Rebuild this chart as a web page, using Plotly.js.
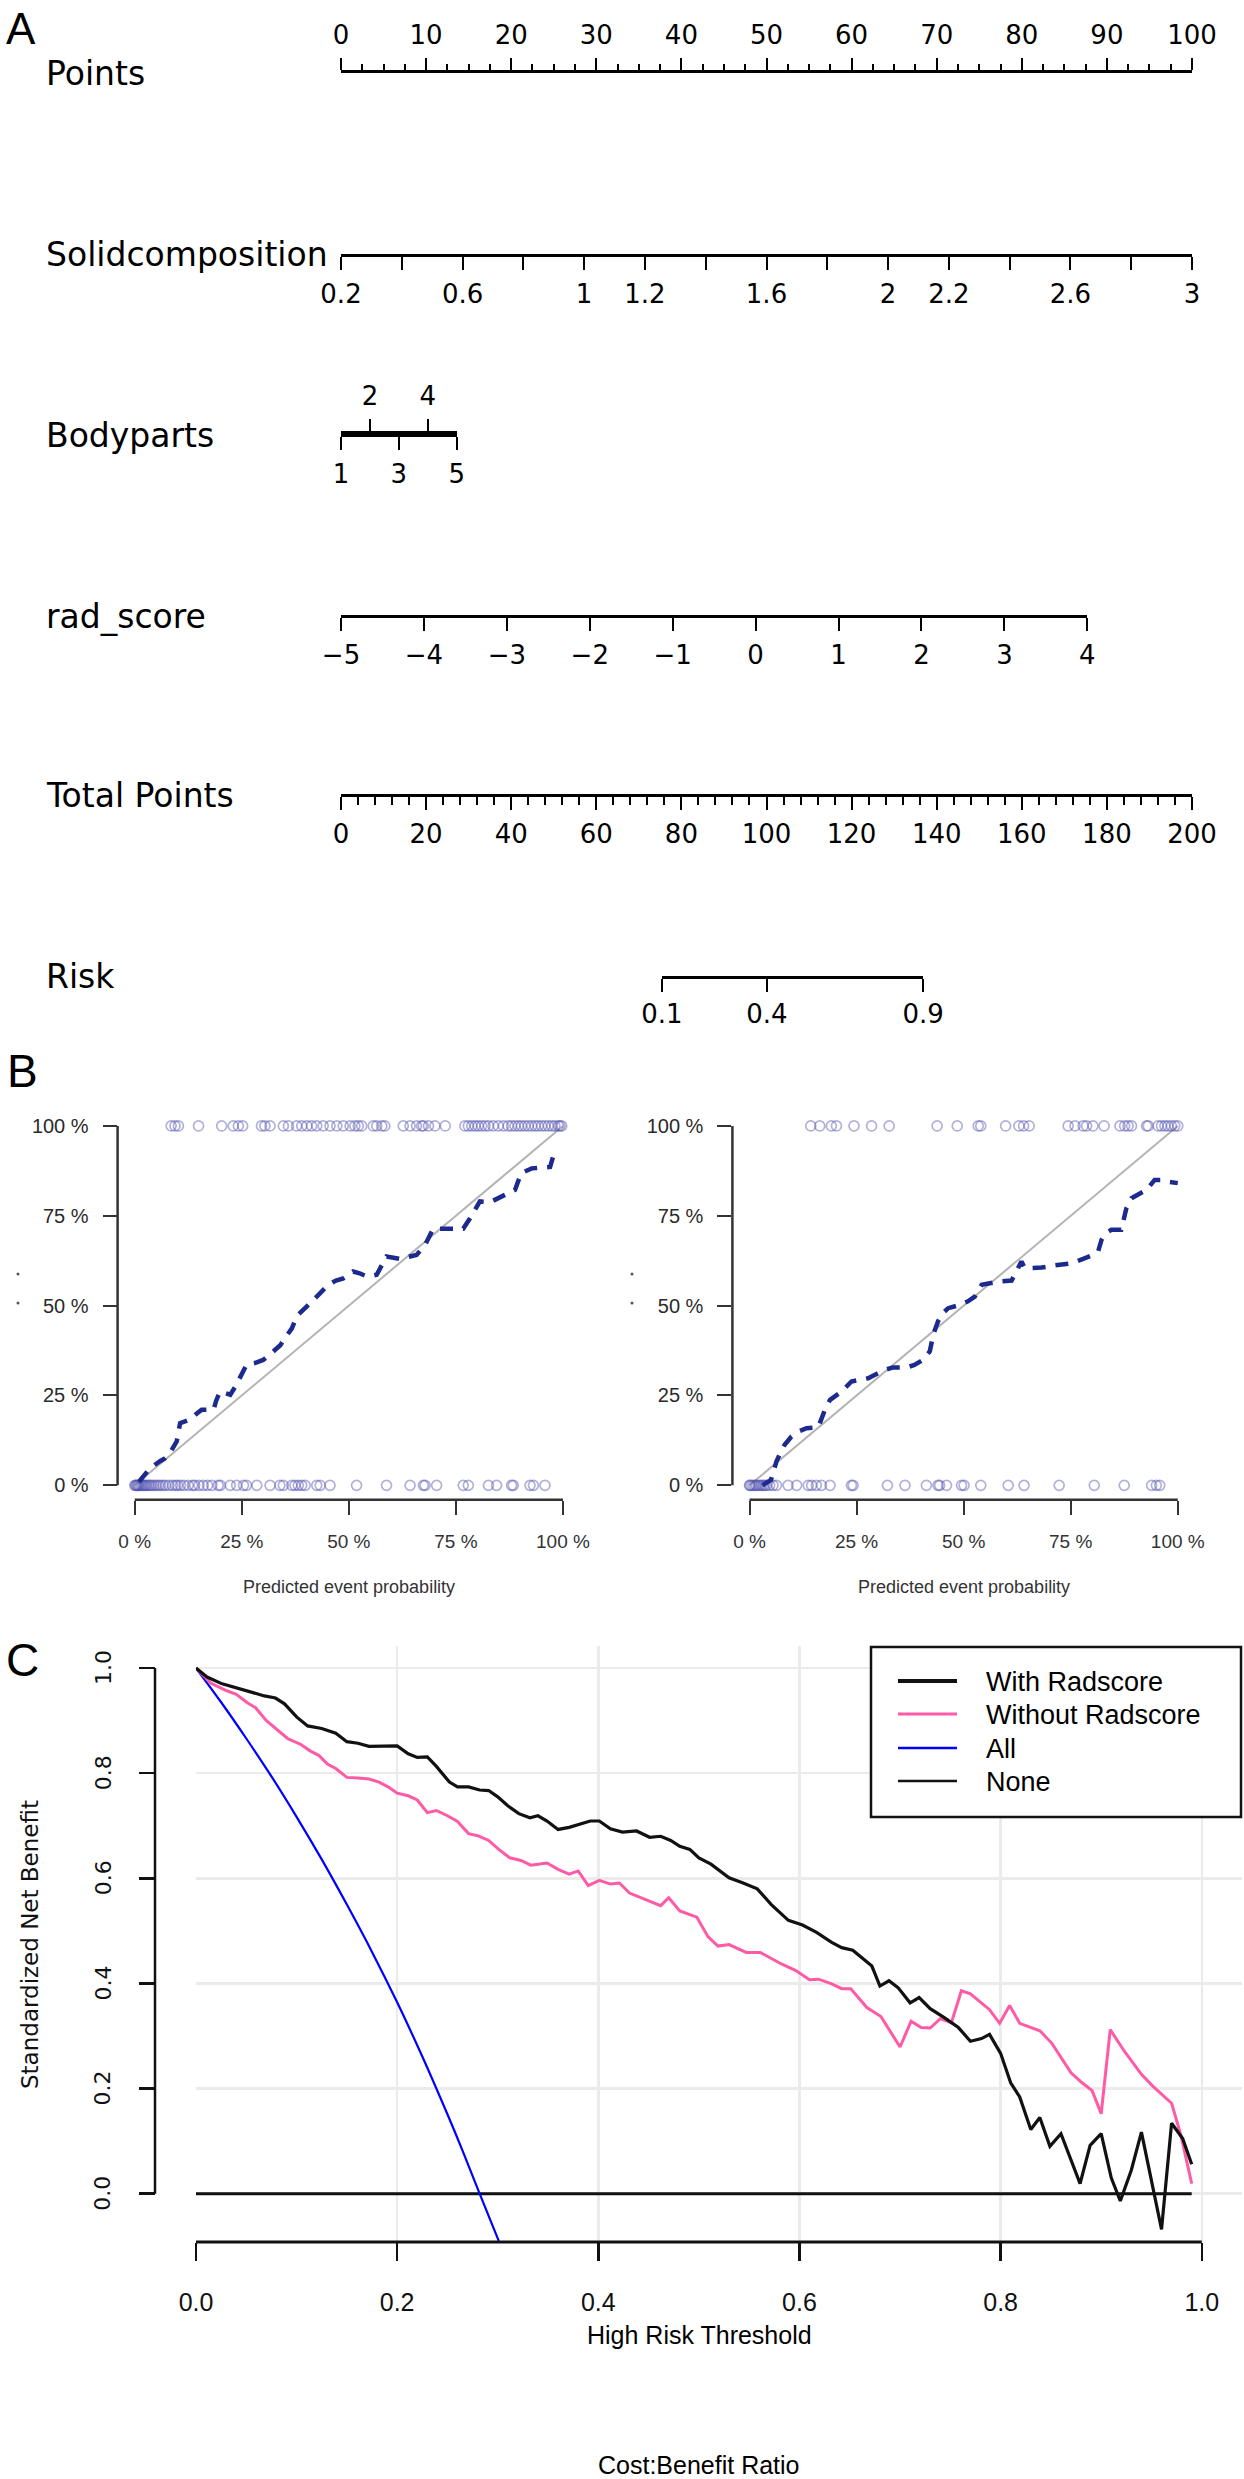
<!DOCTYPE html>
<html>
<head>
<meta charset="utf-8">
<script src="https://cdn.plot.ly/plotly-3.0.1.min.js"></script>
<style>
  html, body { margin: 0; padding: 0; background: #fff; }
  #fig { width: 1244px; height: 2479px; }
</style>
</head>
<body>
<div id="fig"></div>
<script>
// page size in px; layout positions are written in px and turned into paper units
const W = 1244, H = 2479;
const px = x => x / W;
const py = y => 1 - y / H;

const ARIAL = '"Liberation Sans", Arial, sans-serif';
const WIDE = '"DejaVu Sans", Verdana, sans-serif';

// ---------------- A: nomogram ----------------
const rowNames = ['Points', 'Solidcomposition', 'Bodyparts', 'rad_score', 'Total Points', 'Risk'];
const rowLineY = [73, 254, 434, 615, 794, 976];

const solidVals = [0.2, 0.4, 0.6, 0.8, 1.0, 1.2, 1.4, 1.6, 1.8, 2.0, 2.2, 2.4, 2.6, 2.8, 3.0];
const solidText = ['0.2', '', '0.6', '', '1', '1.2', '', '1.6', '', '2', '2.2', '', '2.6', '', '3'];
const bodyLowVals = [1, 3, 5];
const bodyHighVals = [2, 4];
const radVals = [-5, -4, -3, -2, -1, 0, 1, 2, 3, 4];
const radText = ['\u22125', '\u22124', '\u22123', '\u22122', '\u22121', '0', '1', '2', '3', '4'];
const riskText = ['0.1', '0.4', '0.9'];
const riskAtTotal = [75.4, 100.1, 136.8];   // where each risk tick sits on the Total Points scale

// points given by the top of each predictor scale
const pointsRange = [0, 100];
const solidRange = [0.2, 3];   const solidMaxPts = 100;
const bodyRange = [1, 5];      const bodyMaxPts = 13.6;
const radRange = [-5, 4];      const radMaxPts = 87.7;
const totalRange = [0, 200];

// ---------------- B: calibration ----------------
const pctVals = [0, 0.25, 0.5, 0.75, 1];
const pctText = ['0 %', '25 %', '50 %', '75 %', '100 %'];
const idealLine = [0, 1];

const leftCurveX = [0.01, 0.036, 0.059, 0.07, 0.082, 0.098, 0.106, 0.129, 0.145, 0.156, 0.184, 0.19, 0.199, 0.223, 0.235, 0.246, 0.261, 0.28, 0.3, 0.324, 0.34, 0.351, 0.367, 0.375, 0.382, 0.402, 0.415, 0.429, 0.452, 0.47, 0.487, 0.51, 0.525, 0.542, 0.565, 0.575, 0.588, 0.619, 0.64, 0.658, 0.678, 0.69, 0.697, 0.728, 0.75, 0.767, 0.783, 0.795, 0.806, 0.83, 0.85, 0.865, 0.888, 0.895, 0.903, 0.927, 0.95, 0.97, 0.977, 0.985];
const leftCurveY = [0.01, 0.048, 0.067, 0.075, 0.09, 0.122, 0.173, 0.183, 0.2, 0.21, 0.21, 0.235, 0.261, 0.252, 0.275, 0.303, 0.335, 0.34, 0.349, 0.373, 0.39, 0.41, 0.437, 0.46, 0.475, 0.498, 0.515, 0.53, 0.558, 0.57, 0.576, 0.595, 0.59, 0.581, 0.586, 0.61, 0.637, 0.63, 0.635, 0.641, 0.669, 0.7, 0.714, 0.714, 0.714, 0.714, 0.743, 0.77, 0.79, 0.788, 0.8, 0.808, 0.822, 0.845, 0.869, 0.882, 0.884, 0.886, 0.915, 0.93];
const leftEventP = [0.085, 0.094, 0.102, 0.149, 0.203, 0.23, 0.242, 0.252, 0.296, 0.304, 0.316, 0.347, 0.359, 0.378, 0.39, 0.402, 0.413, 0.425, 0.44, 0.456, 0.472, 0.487, 0.503, 0.514, 0.522, 0.53, 0.557, 0.565, 0.577, 0.584, 0.627, 0.643, 0.658, 0.67, 0.674, 0.686, 0.701, 0.725, 0.771, 0.779, 0.787, 0.795, 0.802, 0.81, 0.818, 0.826, 0.837, 0.849, 0.861, 0.872, 0.88, 0.888, 0.896, 0.903, 0.911, 0.919, 0.927, 0.935, 0.942, 0.95, 0.958, 0.966, 0.974, 0.981, 0.989, 0.993, 0.997];
const leftNonEventP = [0, 0.002, 0.004, 0.006, 0.008, 0.01, 0.013, 0.016, 0.019, 0.022, 0.025, 0.028, 0.032, 0.036, 0.04, 0.045, 0.05, 0.055, 0.06, 0.066, 0.072, 0.08, 0.088, 0.095, 0.1, 0.107, 0.115, 0.125, 0.135, 0.14, 0.15, 0.16, 0.17, 0.18, 0.195, 0.2, 0.223, 0.238, 0.254, 0.261, 0.285, 0.316, 0.339, 0.347, 0.367, 0.374, 0.382, 0.39, 0.398, 0.425, 0.433, 0.456, 0.518, 0.588, 0.643, 0.674, 0.678, 0.705, 0.767, 0.779, 0.826, 0.845, 0.88, 0.884, 0.923, 0.931, 0.958];

const rightCurveX = [0.03, 0.05, 0.055, 0.063, 0.072, 0.082, 0.098, 0.115, 0.133, 0.16, 0.168, 0.176, 0.188, 0.2, 0.215, 0.238, 0.26, 0.277, 0.3, 0.318, 0.335, 0.367, 0.385, 0.405, 0.421, 0.429, 0.44, 0.452, 0.464, 0.491, 0.51, 0.526, 0.542, 0.56, 0.581, 0.612, 0.625, 0.635, 0.643, 0.66, 0.682, 0.713, 0.735, 0.752, 0.779, 0.8, 0.814, 0.822, 0.83, 0.845, 0.868, 0.875, 0.88, 0.892, 0.91, 0.927, 0.946, 0.96, 0.974, 1.0];
const rightCurveY = [0.0, 0.015, 0.034, 0.067, 0.09, 0.113, 0.136, 0.15, 0.159, 0.161, 0.185, 0.21, 0.238, 0.25, 0.261, 0.289, 0.295, 0.298, 0.312, 0.322, 0.328, 0.328, 0.335, 0.349, 0.373, 0.419, 0.456, 0.48, 0.493, 0.502, 0.512, 0.525, 0.558, 0.563, 0.567, 0.57, 0.6, 0.623, 0.604, 0.605, 0.606, 0.612, 0.615, 0.618, 0.63, 0.64, 0.651, 0.683, 0.7, 0.711, 0.711, 0.74, 0.771, 0.799, 0.81, 0.822, 0.85, 0.85, 0.845, 0.841];
const rightEventP = [0.143, 0.164, 0.191, 0.203, 0.244, 0.285, 0.326, 0.438, 0.485, 0.534, 0.54, 0.598, 0.629, 0.64, 0.653, 0.744, 0.76, 0.779, 0.787, 0.802, 0.828, 0.865, 0.876, 0.884, 0.892, 0.927, 0.931, 0.954, 0.962, 0.97, 0.977, 0.985, 0.993, 1.0];
const rightNonEventP = [0, 0.001, 0.005, 0.009, 0.013, 0.016, 0.02, 0.024, 0.028, 0.032, 0.036, 0.04, 0.047, 0.055, 0.063, 0.09, 0.11, 0.137, 0.145, 0.156, 0.168, 0.188, 0.238, 0.242, 0.322, 0.363, 0.413, 0.44, 0.444, 0.46, 0.495, 0.501, 0.54, 0.604, 0.641, 0.723, 0.805, 0.875, 0.939, 0.95, 0.958];

// ---------------- C: decision curve ----------------
const dcaTicks = [0, 0.2, 0.4, 0.6, 0.8, 1.0];
const dcaTickText = ['0.0', '0.2', '0.4', '0.6', '0.8', '1.0'];

const withT = [0, 0.011, 0.026, 0.04, 0.054, 0.068, 0.079, 0.088, 0.1, 0.111, 0.125, 0.139, 0.15, 0.161, 0.172, 0.186, 0.2, 0.211, 0.22, 0.23, 0.239, 0.252, 0.26, 0.271, 0.282, 0.291, 0.3, 0.31, 0.321, 0.332, 0.34, 0.349, 0.36, 0.371, 0.381, 0.392, 0.401, 0.412, 0.424, 0.438, 0.451, 0.462, 0.472, 0.481, 0.491, 0.5, 0.512, 0.53, 0.544, 0.558, 0.572, 0.589, 0.603, 0.617, 0.632, 0.642, 0.653, 0.663, 0.672, 0.68, 0.689, 0.698, 0.71, 0.719, 0.73, 0.744, 0.758, 0.77, 0.781, 0.789, 0.8, 0.81, 0.819, 0.83, 0.839, 0.849, 0.86, 0.879, 0.889, 0.9, 0.91, 0.919, 0.93, 0.94, 0.949, 0.96, 0.97, 0.981, 0.99];
const withNB = [1.0, 0.983, 0.97, 0.962, 0.955, 0.947, 0.943, 0.932, 0.907, 0.89, 0.885, 0.876, 0.86, 0.857, 0.851, 0.852, 0.852, 0.837, 0.83, 0.831, 0.813, 0.783, 0.774, 0.774, 0.768, 0.767, 0.755, 0.738, 0.723, 0.715, 0.719, 0.709, 0.693, 0.697, 0.702, 0.709, 0.709, 0.694, 0.688, 0.69, 0.678, 0.68, 0.672, 0.661, 0.655, 0.639, 0.627, 0.601, 0.591, 0.58, 0.55, 0.52, 0.511, 0.497, 0.478, 0.468, 0.463, 0.448, 0.433, 0.395, 0.405, 0.392, 0.363, 0.373, 0.352, 0.335, 0.316, 0.29, 0.295, 0.303, 0.267, 0.211, 0.184, 0.122, 0.145, 0.09, 0.114, 0.019, 0.092, 0.114, 0.03, -0.014, 0.045, 0.117, 0.034, -0.068, 0.134, 0.105, 0.056];

const withoutT = [0, 0.015, 0.029, 0.04, 0.051, 0.059, 0.07, 0.081, 0.091, 0.104, 0.113, 0.122, 0.131, 0.139, 0.15, 0.161, 0.172, 0.182, 0.191, 0.2, 0.211, 0.22, 0.23, 0.239, 0.25, 0.26, 0.271, 0.28, 0.291, 0.301, 0.312, 0.323, 0.333, 0.349, 0.36, 0.371, 0.38, 0.39, 0.401, 0.412, 0.421, 0.431, 0.446, 0.462, 0.47, 0.481, 0.498, 0.509, 0.519, 0.53, 0.547, 0.561, 0.582, 0.596, 0.61, 0.619, 0.632, 0.642, 0.651, 0.667, 0.681, 0.7, 0.711, 0.721, 0.73, 0.74, 0.751, 0.761, 0.77, 0.789, 0.799, 0.809, 0.819, 0.839, 0.851, 0.87, 0.881, 0.891, 0.9, 0.909, 0.923, 0.94, 0.951, 0.97, 0.979, 0.99];
const withoutNB = [1.0, 0.971, 0.958, 0.95, 0.934, 0.925, 0.9, 0.883, 0.866, 0.855, 0.843, 0.834, 0.817, 0.809, 0.792, 0.791, 0.789, 0.783, 0.774, 0.762, 0.757, 0.749, 0.725, 0.729, 0.719, 0.708, 0.685, 0.681, 0.672, 0.655, 0.639, 0.634, 0.625, 0.629, 0.617, 0.608, 0.614, 0.586, 0.596, 0.589, 0.591, 0.572, 0.561, 0.548, 0.563, 0.538, 0.526, 0.489, 0.471, 0.474, 0.459, 0.459, 0.437, 0.425, 0.407, 0.408, 0.399, 0.39, 0.39, 0.354, 0.337, 0.279, 0.328, 0.316, 0.315, 0.333, 0.325, 0.386, 0.38, 0.35, 0.324, 0.358, 0.324, 0.31, 0.286, 0.23, 0.211, 0.196, 0.152, 0.312, 0.271, 0.227, 0.205, 0.172, 0.113, 0.019];

const allT = [0, 0.025, 0.05, 0.075, 0.1, 0.125, 0.15, 0.175, 0.2, 0.225, 0.25, 0.265, 0.282, 0.301];
const allNB = [1.0, 0.935, 0.866, 0.794, 0.717, 0.636, 0.55, 0.46, 0.364, 0.261, 0.151, 0.082, 0.0, -0.09];

const noneT = [0, 0.99];
const noneNB = [0, 0];

const legendNames = ['With Radscore', 'Without Radscore', 'All', 'None'];
const legendColors = ['#111111', '#ff5aa5', '#0000ff', '#111111'];
const legendWidths = [4, 3, 2.5, 2.5];

// ---------------- traces ----------------
const traces = [];

function hiddenTrace(xa, ya, xr) {
  return {x: xr, y: [0.5, 0.5], xaxis: xa, yaxis: ya, mode: 'markers',
          marker: {opacity: 0}, hoverinfo: 'skip', showlegend: false};
}

function calibTraces(xa, ya, curveX, curveY, eventP, nonEventP) {
  const circ = {symbol: 'circle-open', size: 10, color: 'rgba(80,80,175,0.45)', line: {width: 1.7}};
  return [
    {x: idealLine, y: idealLine, xaxis: xa, yaxis: ya, mode: 'lines',
     line: {color: '#b4b4b4', width: 2}, hoverinfo: 'skip'},
    {x: eventP, y: eventP.map(() => 1), xaxis: xa, yaxis: ya, mode: 'markers', marker: circ},
    {x: nonEventP, y: nonEventP.map(() => 0), xaxis: xa, yaxis: ya, mode: 'markers', marker: circ},
    {x: curveX, y: curveY, xaxis: xa, yaxis: ya, mode: 'lines',
     line: {color: '#1c2a8e', width: 4.5, dash: '13px,10px'}}
  ];
}

traces.push(...calibTraces('x', 'y', leftCurveX, leftCurveY, leftEventP, leftNonEventP));
traces.push(...calibTraces('x2', 'y2', rightCurveX, rightCurveY, rightEventP, rightNonEventP));

traces.push(
  {x: noneT, y: noneNB, xaxis: 'x3', yaxis: 'y3', mode: 'lines', line: {color: '#111', width: 3}},
  {x: allT, y: allNB, xaxis: 'x3', yaxis: 'y3', mode: 'lines', line: {color: '#0000ff', width: 2.2, shape: 'spline'}},
  {x: withoutT, y: withoutNB, xaxis: 'x3', yaxis: 'y3', mode: 'lines', line: {color: '#ff5aa5', width: 3}},
  {x: withT, y: withNB, xaxis: 'x3', yaxis: 'y3', mode: 'lines', line: {color: '#111', width: 3.2}}
);

// nomogram rows, one hidden trace per axis so each axis is drawn
const nomoIds = [4, 5, 6, 7, 8, 9, 10];
const nomoRanges = [pointsRange, solidRange, bodyRange, bodyRange, radRange, totalRange,
                    [riskAtTotal[0], riskAtTotal[riskAtTotal.length - 1]]];
nomoIds.forEach((n, i) => traces.push(hiddenTrace('x' + n, 'y' + n, nomoRanges[i])));

// ---------------- layout ----------------
const scaleX0 = 341, scaleX1 = 1192;
const span = (f0, f1) => [px(scaleX0 + f0 * (scaleX1 - scaleX0)), px(scaleX0 + f1 * (scaleX1 - scaleX0))];
const eps = 1e-6;
const pad = r => [r[0] - eps, r[1] + eps];

const nomoBase = {
  showgrid: false, zeroline: false, showline: true, linecolor: '#000', linewidth: 3,
  ticks: 'outside', ticklen: 13, tickwidth: 2, tickcolor: '#000', tickangle: 0,
  tickfont: {family: WIDE, size: 26, color: '#000'}, ticklabelstandoff: 2, fixedrange: true
};
function band(lineY, side) {
  const p = py(lineY);
  return {domain: side === 'top' ? [p - 0.002, p] : [p, p + 0.002], range: [0, 1],
          visible: false, fixedrange: true};
}

const layout = {
  width: W, height: H, margin: {l: 0, r: 0, t: 0, b: 0},
  paper_bgcolor: '#fff', plot_bgcolor: 'rgba(0,0,0,0)', showlegend: false,
  font: {family: ARIAL, color: '#000'}
};

// Points
layout.xaxis4 = Object.assign({}, nomoBase, {
  domain: span(0, 1), anchor: 'y4', side: 'top', range: pad(pointsRange),
  tickmode: 'linear', tick0: 0, dtick: 10, ticklen: 12, ticklabelstandoff: 4,
  minor: {ticks: 'outside', tick0: 0, dtick: 2.5, ticklen: 6, tickwidth: 2, tickcolor: '#000', showgrid: false}
});
layout.yaxis4 = band(rowLineY[0], 'top');
// Solidcomposition
layout.xaxis5 = Object.assign({}, nomoBase, {
  domain: span(0, solidMaxPts / 100), anchor: 'y5', side: 'bottom', range: pad(solidRange),
  tickmode: 'array', tickvals: solidVals, ticktext: solidText
});
layout.yaxis5 = band(rowLineY[1], 'bottom');
// Bodyparts (odd values below, even values above)
layout.xaxis6 = Object.assign({}, nomoBase, {
  domain: span(0, bodyMaxPts / 100), anchor: 'y6', side: 'bottom', range: pad(bodyRange),
  tickmode: 'array', tickvals: bodyLowVals, ticktext: bodyLowVals.map(String)
});
layout.yaxis6 = band(rowLineY[2], 'bottom');
layout.xaxis7 = Object.assign({}, nomoBase, {
  domain: span(0, bodyMaxPts / 100), anchor: 'y7', side: 'top', range: pad(bodyRange),
  tickmode: 'array', tickvals: bodyHighVals, ticktext: bodyHighVals.map(String), ticklen: 12,
  ticklabelstandoff: 4
});
layout.yaxis7 = band(rowLineY[2], 'top');
// rad_score
layout.xaxis8 = Object.assign({}, nomoBase, {
  domain: span(0, radMaxPts / 100), anchor: 'y8', side: 'bottom', range: pad(radRange),
  tickmode: 'array', tickvals: radVals, ticktext: radText
});
layout.yaxis8 = band(rowLineY[3], 'bottom');
// Total Points
layout.xaxis9 = Object.assign({}, nomoBase, {
  domain: span(0, 1), anchor: 'y9', side: 'bottom', range: pad(totalRange),
  tickmode: 'linear', tick0: 0, dtick: 20,
  minor: {ticks: 'outside', tick0: 0, dtick: 4, ticklen: 8, tickwidth: 2, tickcolor: '#000', showgrid: false}
});
layout.yaxis9 = band(rowLineY[4], 'bottom');
// Risk
const tMax = totalRange[1];
layout.xaxis10 = Object.assign({}, nomoBase, {
  domain: span(riskAtTotal[0] / tMax, riskAtTotal[riskAtTotal.length - 1] / tMax), anchor: 'y10',
  side: 'bottom', range: pad([riskAtTotal[0], riskAtTotal[riskAtTotal.length - 1]]),
  tickmode: 'array', tickvals: riskAtTotal, ticktext: riskText, ticklabelstandoff: 0
});
layout.yaxis10 = band(rowLineY[5], 'bottom');

// calibration subplots
const calibY = [py(1499.7), py(1111.6)];
function calibX(dom, anchor) {
  return {domain: dom, anchor: anchor, range: [-0.04, 1.04], tickmode: 'array',
          tickvals: pctVals, ticktext: pctText, ticks: 'outside', ticklen: 14, tickwidth: 2,
          tickcolor: '#333', showline: false, showgrid: false, zeroline: false, tickangle: 0,
          tickfont: {family: ARIAL, size: 19, color: '#333'}, ticklabelstandoff: 10, fixedrange: true};
}
function calibYAx(anchor) {
  return {domain: calibY, anchor: anchor, range: [-0.04, 1.04], tickmode: 'array',
          tickvals: pctVals, ticktext: pctText, ticks: 'outside', ticklen: 14, tickwidth: 2,
          tickcolor: '#333', showline: false, showgrid: false, zeroline: false,
          tickfont: {family: ARIAL, size: 20, color: '#2a2a2a'}, ticklabelstandoff: 10, fixedrange: true};
}
layout.xaxis = calibX([px(117.6), px(580.1)], 'y');
layout.yaxis = calibYAx('x');
layout.xaxis2 = calibX([px(732.4), px(1194.9)], 'y2');
layout.yaxis2 = calibYAx('x2');

// decision curve
layout.xaxis3 = {
  domain: [px(196), px(1242)], anchor: 'y3', range: [0, 1.04], tickmode: 'array',
  tickvals: dcaTicks, ticktext: dcaTickText, ticks: 'outside', ticklen: 18, tickwidth: 2.5,
  tickcolor: '#111', showline: false, zeroline: false, showgrid: true, gridcolor: '#ebebeb',
  gridwidth: 2.5, tickangle: 0, tickfont: {family: ARIAL, size: 25, color: '#111'},
  ticklabelstandoff: 20, fixedrange: true
};
layout.yaxis3 = {
  domain: [py(2242), py(1646)], anchor: 'free', position: px(155), range: [-0.092, 1.042],
  tickmode: 'array', tickvals: dcaTicks, ticks: 'outside', ticklen: 16,
  tickwidth: 2.5, tickcolor: '#111', showline: false, zeroline: false, showgrid: true,
  gridcolor: '#ebebeb', gridwidth: 2.5, showticklabels: false, fixedrange: true
};

// ---------------- shapes ----------------
const shapes = [];
['', '2'].forEach(s => {
  shapes.push({type: 'line', xref: 'x' + s, yref: 'y' + s + ' domain', x0: 0, x1: 1, y0: 0, y1: 0,
               line: {color: '#333', width: 2.5}});
  shapes.push({type: 'line', xref: 'x' + s + ' domain', yref: 'y' + s, x0: 0, x1: 0, y0: 0, y1: 1,
               line: {color: '#333', width: 2.5}});
});
shapes.push({type: 'line', xref: 'x3', yref: 'y3 domain', x0: 0, x1: 1, y0: 0, y1: 0,
             line: {color: '#111', width: 3}});
shapes.push({type: 'line', xref: 'paper', yref: 'y3', x0: px(155), x1: px(155), y0: 0, y1: 1,
             line: {color: '#111', width: 2.5}});

// stray dots left of each calibration plot
[18, 632].forEach(x => [1274, 1303].forEach(y => {
  shapes.push({type: 'circle', xref: 'paper', yref: 'paper', x0: px(x - 1.5), x1: px(x + 1.5),
               y0: py(y + 1.5), y1: py(y - 1.5), fillcolor: '#555', line: {width: 0}});
}));

// legend box of panel C
shapes.push({type: 'rect', xref: 'paper', yref: 'paper', x0: px(871), x1: px(1241), y0: py(1817), y1: py(1647),
             fillcolor: '#fff', line: {color: '#111', width: 2.5}});
const legendRowY = [1681, 1714, 1748, 1781];
legendNames.forEach((nm, i) => {
  shapes.push({type: 'line', xref: 'paper', yref: 'paper', x0: px(898), x1: px(957),
               y0: py(legendRowY[i]), y1: py(legendRowY[i]),
               line: {color: legendColors[i], width: legendWidths[i]}});
});
layout.shapes = shapes;

// ---------------- annotations ----------------
const ann = [];
function txt(text, x, y, size, opts) {
  ann.push(Object.assign({text: text, xref: 'paper', yref: 'paper', x: px(x), y: py(y),
    showarrow: false, xanchor: 'center', yanchor: 'middle',
    font: {family: ARIAL, size: size, color: '#000'}}, opts || {}));
}
rowNames.forEach((nm, i) => txt(nm, 44, rowLineY[i] + 1, 33, {xanchor: 'left', font: {family: WIDE, size: 33, color: '#000'}}));
txt('A', 21, 28, 44);
txt('B', 22, 1071, 46);
txt('C', 22, 1660, 46);
txt('Predicted event probability', 349, 1587, 18, {font: {family: ARIAL, size: 18, color: '#333'}});
txt('Predicted event probability', 964, 1587, 18, {font: {family: ARIAL, size: 18, color: '#333'}});
txt('High Risk Threshold', 699, 2335, 25);
txt('Cost:Benefit Ratio', 699, 2465, 25);
txt('Standardized Net Benefit', 30, 1945, 23, {textangle: -90, font: {family: WIDE, size: 23, color: '#111'}});
legendNames.forEach((nm, i) => txt(nm, 984, legendRowY[i] + 1, 27, {xanchor: 'left'}));
// rotated y tick labels of panel C, placed on the y3 scale
dcaTicks.forEach((v, i) => ann.push({text: dcaTickText[i], xref: 'paper', yref: 'y3', x: px(103), y: v,
  showarrow: false, xanchor: 'center', yanchor: 'middle', textangle: -90,
  font: {family: WIDE, size: 22, color: '#111'}}));
layout.annotations = ann;

Plotly.newPlot('fig', traces, layout, {staticPlot: true, displayModeBar: false});
</script>
</body>
</html>
